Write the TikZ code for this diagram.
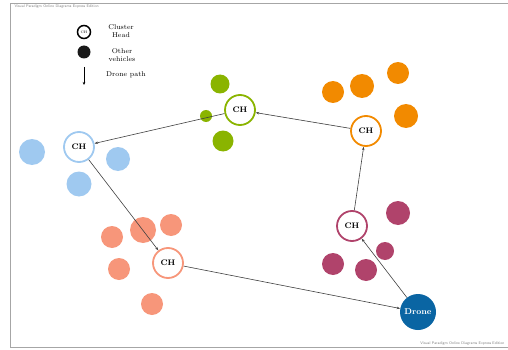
\documentclass[tikz,border=0pt]{standalone}
\usepackage{tikz}
\usetikzlibrary{arrows.meta}

\definecolor{chblue}{HTML}{9FC9F0}
\definecolor{chgreen}{HTML}{8AB400}
\definecolor{chorange}{HTML}{F28A00}
\definecolor{chsalmon}{HTML}{F7967A}
\definecolor{chmagenta}{HTML}{B0436B}
\definecolor{dronecol}{HTML}{0A65A3}

\begin{document}
\begin{tikzpicture}[x=1pt, y=-1pt,
  head/.style={circle, draw=#1, line width=1.8pt, fill=white, minimum size=30pt, inner sep=0pt, font=\fontsize{8}{9}\selectfont\bfseries},
  veh/.style={circle, fill=#1, inner sep=0pt},
  legtxt/.style={font=\fontsize{7}{8}\selectfont, align=center},
  wmark/.style={font=\fontsize{3.8}{4}\selectfont\sffamily, gray},
  arr/.style={-{Stealth[length=3.5pt, width=2.5pt]}, semithick, black!75}
]
\useasboundingbox (0,0) rectangle (508,350);

% Frame
\draw[gray!70, line width=0.8pt] (508,3) -- (10,3) -- (10,347) -- (508,347);
\node[wmark, anchor=west] (wm1) at (11,7) {Visual Paradigm Online Diagrams Express Edition};
\node[wmark, anchor=east] (wm2) at (508,344) {Visual Paradigm Online Diagrams Express Edition};

% Legend
\node[circle, draw=black, line width=1.5pt, fill=white, minimum size=13pt, inner sep=0pt, font=\fontsize{3.5}{4}\selectfont] (lgch) at (84,32) {CH};
\node[legtxt] (lgchtxt) at (121,31) {Cluster\\Head};
\node[veh=black!90, minimum size=13pt] (lgveh) at (84,52) {};
\node[legtxt] (lgvehtxt) at (122,55) {Other\\vehicles};
\coordinate (lgtop) at (84,67);
\coordinate (lgbot) at (84,85);
\draw[-{Stealth[length=3pt, width=2.5pt]}, thin] (lgtop) -- (lgbot);
\node[legtxt] (lgpath) at (126,75) {Drone path};

% Blue cluster
\node[head=chblue] (chb) at (79,147) {CH};
\foreach \x/\y/\d [count=\i] in {32/152/26, 118/159/24, 79/184/25}
  \node[veh=chblue, minimum size=\d pt] (b\i) at (\x,\y) {};

% Green cluster
\node[head=chgreen] (chg) at (240,110) {CH};
\foreach \x/\y/\d [count=\i] in {220/84/19, 206/116/12, 223/141/21}
  \node[veh=chgreen, minimum size=\d pt] (g\i) at (\x,\y) {};

% Orange cluster
\node[head=chorange] (cho) at (366,131) {CH};
\foreach \x/\y/\d [count=\i] in {333/92/22, 362/86/24, 398/73/22, 406/116/24}
  \node[veh=chorange, minimum size=\d pt] (o\i) at (\x,\y) {};

% Salmon cluster
\foreach \x/\y/\d [count=\i] in {112/237/22, 143/230/26, 171/225/22, 119/269/22, 152/304/22}
  \node[veh=chsalmon, minimum size=\d pt] (s\i) at (\x,\y) {};
\node[head=chsalmon] (chs) at (168,263) {CH};

% Magenta cluster
\node[head=chmagenta] (chm) at (352,226) {CH};
\foreach \x/\y/\d [count=\i] in {398/213/24, 385/251/18, 366/270/22, 333/264/22}
  \node[veh=chmagenta, minimum size=\d pt] (m\i) at (\x,\y) {};

% Drone
\node[circle, fill=dronecol, minimum size=36pt, inner sep=0pt, text=white, font=\fontsize{8.5}{9}\selectfont\bfseries] (drone) at (418,312) {Drone};

% Drone path
\draw[arr] (drone) -- (chm);
\draw[arr] (chm) -- (cho);
\draw[arr] (cho) -- (chg);
\draw[arr] (chg) -- (chb);
\draw[arr] (chb) -- (chs);
\draw[arr] (chs) -- (drone);
\end{tikzpicture}
\end{document}
